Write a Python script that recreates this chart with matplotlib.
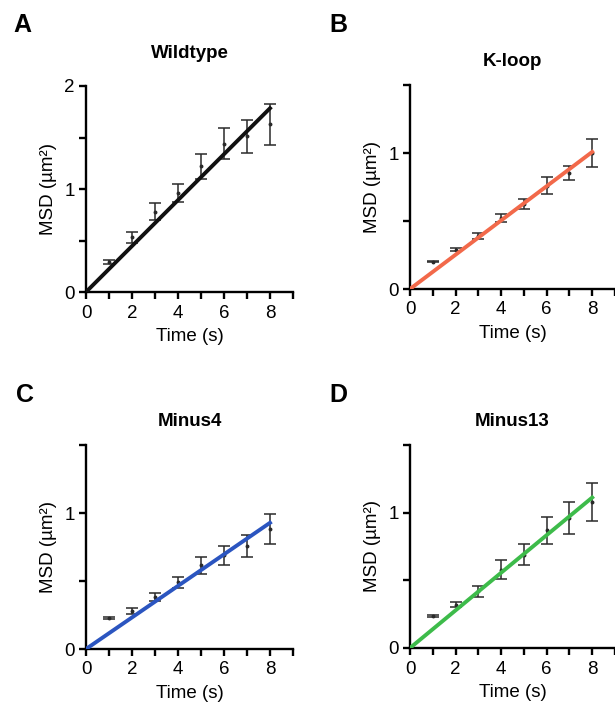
import numpy as np
import matplotlib
matplotlib.use("Agg")
import matplotlib.pyplot as plt
from matplotlib.ticker import MultipleLocator

plt.rcParams['font.family'] = ['Liberation Sans', 'DejaVu Sans']

# time points (s)
time = [1, 2, 3, 4, 5, 6, 7, 8]

# MSD means and errors
wt_msd = [0.29, 0.53, 0.78, 0.96, 1.22, 1.44, 1.51, 1.63]
wt_err = [0.02, 0.05, 0.08, 0.09, 0.12, 0.15, 0.16, 0.20]
kloop_msd = [0.20, 0.29, 0.39, 0.52, 0.625, 0.76, 0.855, 1.00]
kloop_err = [0.005, 0.012, 0.02, 0.03, 0.035, 0.06, 0.05, 0.10]
m4_msd = [0.23, 0.28, 0.385, 0.49, 0.615, 0.69, 0.755, 0.88]
m4_err = [0.006, 0.02, 0.03, 0.04, 0.06, 0.07, 0.08, 0.11]
m13_msd = [0.235, 0.32, 0.42, 0.58, 0.69, 0.87, 0.96, 1.08]
m13_err = [0.006, 0.02, 0.04, 0.07, 0.08, 0.10, 0.12, 0.14]

# fitted slopes (um^2/s)
slopes = [0.223, 0.126, 0.116, 0.139]

titles = ['Wildtype', 'K-loop', 'Minus4', 'Minus13']
letters = ['A', 'B', 'C', 'D']
colors = ['#111111', '#F2694A', '#2B55C0', '#3DBB4A']
ymax = [2.0, 1.5, 1.5, 1.5]
means = [wt_msd, kloop_msd, m4_msd, m13_msd]
errs = [wt_err, kloop_err, m4_err, m13_err]

W, H = 615, 707
fig = plt.figure(figsize=(W / 100, H / 100), dpi=100)

# axes boxes in pixels: left, top, right, bottom
boxes = [(86, 86, 293, 292), (410, 85, 615, 289),
         (86, 445, 293, 649), (410, 445, 615, 648)]
title_y = [53, 62, 422, 422]
letter_pos = [(22, 25), (338, 25), (25, 395), (338, 395)]

for i in range(4):
    l, t, r, b = boxes[i]
    ax = fig.add_axes([l / W, 1 - b / H, (r - l) / W, (b - t) / H])
    ax.errorbar(time, means[i], yerr=errs[i], fmt='o', ms=1.8, color='#2a2a2a',
                ecolor='#2a2a2a', elinewidth=1.1, capsize=4, capthick=1.1, zorder=2)
    fx = np.array([0, 8])
    ax.plot(fx, slopes[i] * fx, color=colors[i], lw=2.8, zorder=3)

    ax.set_xlim(0, 9)
    ax.set_ylim(0, ymax[i])
    ax.xaxis.set_major_locator(MultipleLocator(2))
    ax.xaxis.set_minor_locator(MultipleLocator(1))
    ax.yaxis.set_major_locator(MultipleLocator(1))
    ax.yaxis.set_minor_locator(MultipleLocator(0.5))
    ax.spines['top'].set_visible(False)
    ax.spines['right'].set_visible(False)
    for s in ['left', 'bottom']:
        ax.spines[s].set_linewidth(1.7)
    ax.tick_params(which='both', direction='out', width=1.7, length=5, labelsize=13.5)
    ax.tick_params(axis='x', which='both', pad=4)
    ax.tick_params(axis='y', which='both', pad=3)
    ax.set_xlabel('Time (s)', fontsize=13.5, labelpad=5)
    ax.set_ylabel('MSD (µm²)', fontsize=13.5, labelpad=5)
    ax.patch.set_alpha(0)

    fig.text(((l + r) / 2) / W, 1 - title_y[i] / H, titles[i], fontsize=13.5,
             fontweight='bold', ha='center', va='center')
    fig.text(letter_pos[i][0] / W, 1 - letter_pos[i][1] / H, letters[i], fontsize=18,
             fontweight='bold', ha='center', va='center')

fig.savefig('out.png', dpi=100)
